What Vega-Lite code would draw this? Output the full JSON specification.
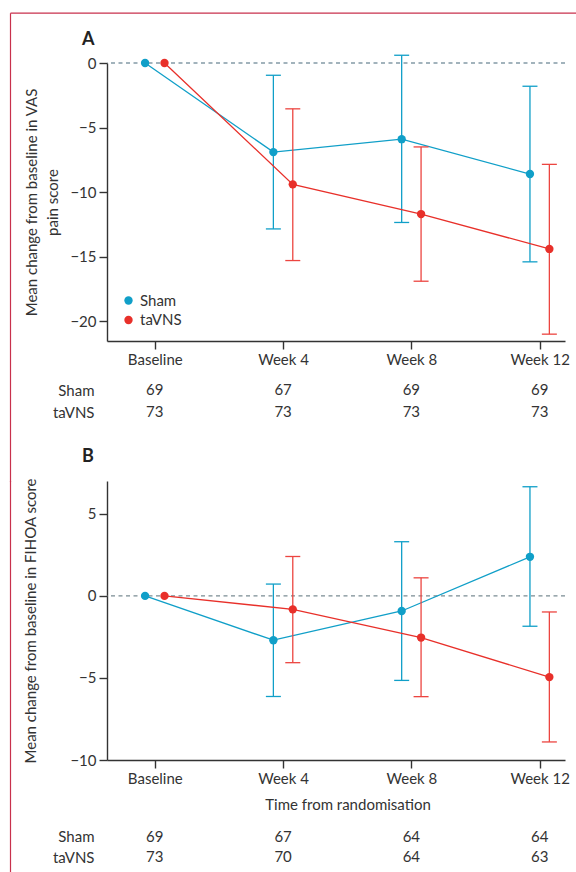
{
  "$schema": "https://vega.github.io/schema/vega-lite/v6.json",
  "padding": {"left": 9, "top": 12, "right": 0, "bottom": 0},
  "background": "white",
  "bounds": "flush",
  "spacing": 10,
  "resolve": {"scale": {"color": "independent"}, "legend": {"color": "independent"}},
  "config": {
    "font": "Lato",
    "view": {"stroke": null},
    "axis": {"labelFont": "Lato", "labelFontSize": 15, "labelColor": "#333", "titleFont": "Lato", "titleFontSize": 15, "titleColor": "#333", "titleFontWeight": "normal", "domainColor": "#333", "domainWidth": 1.4, "tickColor": "#333", "tickWidth": 1.4, "grid": false},
    "legend": {"labelFont": "Lato", "labelFontSize": 15, "labelColor": "#333"},
    "title": {"font": "Lato", "fontSize": 18, "fontWeight": "bold", "color": "#222", "anchor": "start", "frame": "group", "dx": -25, "baseline": "alphabetic"}
  },
  "datasets": {
    "A": [
      {"week": 0, "group": "Sham", "mean": 0, "lo": null, "hi": null},
      {"week": 4, "group": "Sham", "mean": -6.9, "lo": -12.85, "hi": -0.95},
      {"week": 8, "group": "Sham", "mean": -5.9, "lo": -12.35, "hi": 0.6},
      {"week": 12, "group": "Sham", "mean": -8.6, "lo": -15.4, "hi": -1.8},
      {"week": 0, "group": "taVNS", "mean": 0, "lo": null, "hi": null},
      {"week": 4, "group": "taVNS", "mean": -9.4, "lo": -15.3, "hi": -3.55},
      {"week": 8, "group": "taVNS", "mean": -11.7, "lo": -16.9, "hi": -6.5},
      {"week": 12, "group": "taVNS", "mean": -14.4, "lo": -21.0, "hi": -7.85}
    ],
    "B": [
      {"week": 0, "group": "Sham", "mean": 0, "lo": null, "hi": null},
      {"week": 4, "group": "Sham", "mean": -2.7, "lo": -6.13, "hi": 0.72},
      {"week": 8, "group": "Sham", "mean": -0.92, "lo": -5.15, "hi": 3.3},
      {"week": 12, "group": "Sham", "mean": 2.38, "lo": -1.85, "hi": 6.65},
      {"week": 0, "group": "taVNS", "mean": 0, "lo": null, "hi": null},
      {"week": 4, "group": "taVNS", "mean": -0.82, "lo": -4.07, "hi": 2.4},
      {"week": 8, "group": "taVNS", "mean": -2.54, "lo": -6.14, "hi": 1.1},
      {"week": 12, "group": "taVNS", "mean": -4.95, "lo": -8.9, "hi": -0.98}
    ],
    "nA": [
      {"week": 0, "group": "Sham", "n": 69}, {"week": 4, "group": "Sham", "n": 67}, {"week": 8, "group": "Sham", "n": 69}, {"week": 12, "group": "Sham", "n": 69},
      {"week": 0, "group": "taVNS", "n": 73}, {"week": 4, "group": "taVNS", "n": 73}, {"week": 8, "group": "taVNS", "n": 73}, {"week": 12, "group": "taVNS", "n": 73}
    ],
    "nB": [
      {"week": 0, "group": "Sham", "n": 69}, {"week": 4, "group": "Sham", "n": 67}, {"week": 8, "group": "Sham", "n": 64}, {"week": 12, "group": "Sham", "n": 64},
      {"week": 0, "group": "taVNS", "n": 73}, {"week": 4, "group": "taVNS", "n": 70}, {"week": 8, "group": "taVNS", "n": 64}, {"week": 12, "group": "taVNS", "n": 63}
    ]
  },
  "vconcat": [
    {
      "width": 458, "height": 278,
      "title": {"text": "A", "offset": 6},
      "data": {"name": "A"},
      "layer": [
        {"data": {"values": [{}]}, "mark": {"type": "rule", "color": "#47687A", "strokeDash": [4, 3.5], "strokeWidth": 1.2},
         "encoding": {"y": {"datum": 0, "type": "quantitative", "scale": {"domain": [-21.53, 0], "nice": false, "zero": false}, "axis": {"values": [-20, -15, -10, -5, 0], "tickSize": 8, "labelPadding": 3, "title": ["Mean change from baseline in VAS", "pain score"], "titleX": -75.5, "titleY": 139, "titleAngle": -90, "titleAlign": "center", "titleBaseline": "middle", "titleLineHeight": 21}}}},
        {"transform": [{"filter": "datum.group == 'Sham'"}],
         "layer": [
          {"mark": {"type": "line", "color": "#109FC8", "strokeWidth": 1.3, "xOffset": -9.7},
           "encoding": {"x": {"field": "week", "type": "quantitative", "scale": {"domain": [-1.49, 12.79], "nice": false, "zero": false}, "axis": {"values": [0, 4, 8, 12], "labelExpr": "datum.value == 0 ? 'Baseline' : 'Week ' + datum.value", "title": null, "tickSize": 8, "labelPadding": 3, "labelFlush": false, "labelOverlap": false}},
                        "y": {"field": "mean", "type": "quantitative", "scale": {"domain": [-21.53, 0], "nice": false, "zero": false}, "axis": {"values": [-20, -15, -10, -5, 0], "tickSize": 8, "labelPadding": 3, "title": ["Mean change from baseline in VAS", "pain score"], "titleX": -75.5, "titleY": 139, "titleAngle": -90, "titleAlign": "center", "titleBaseline": "middle", "titleLineHeight": 21}}}},
          {"transform": [{"filter": "isValid(datum.lo)"}],
           "mark": {"type": "rule", "color": "#109FC8", "strokeWidth": 1.3, "xOffset": -9.7},
           "encoding": {"x": {"field": "week", "type": "quantitative"}, "y": {"field": "lo", "type": "quantitative"}, "y2": {"field": "hi"}}},
          {"transform": [{"filter": "isValid(datum.lo)"}],
           "mark": {"type": "tick", "orient": "horizontal", "color": "#109FC8", "size": 15, "thickness": 1.3, "opacity": 1, "xOffset": -9.7},
           "encoding": {"x": {"field": "week", "type": "quantitative"}, "y": {"field": "lo", "type": "quantitative"}}},
          {"transform": [{"filter": "isValid(datum.lo)"}],
           "mark": {"type": "tick", "orient": "horizontal", "color": "#109FC8", "size": 15, "thickness": 1.3, "opacity": 1, "xOffset": -9.7},
           "encoding": {"x": {"field": "week", "type": "quantitative"}, "y": {"field": "hi", "type": "quantitative"}}},
          {"mark": {"type": "circle", "size": 70, "opacity": 1, "xOffset": -9.7},
           "encoding": {"x": {"field": "week", "type": "quantitative"}, "y": {"field": "mean", "type": "quantitative"},
                        "color": {"field": "group", "type": "nominal", "scale": {"domain": ["Sham", "taVNS"], "range": ["#109FC8", "#E8302A"]},
                                  "legend": {"orient": "none", "legendX": 14, "legendY": 230, "title": null, "symbolSize": 70, "symbolType": "circle", "rowPadding": 3.5, "labelOffset": 4, "padding": 0, "symbolStrokeWidth": 0, "symbolOpacity": 1}}}}
         ]},
        {"transform": [{"filter": "datum.group == 'taVNS'"}],
         "layer": [
          {"mark": {"type": "line", "color": "#E8302A", "strokeWidth": 1.3, "xOffset": 9.7},
           "encoding": {"x": {"field": "week", "type": "quantitative"}, "y": {"field": "mean", "type": "quantitative"}}},
          {"transform": [{"filter": "isValid(datum.lo)"}],
           "mark": {"type": "rule", "color": "#EC4540", "strokeWidth": 1.3, "xOffset": 9.7},
           "encoding": {"x": {"field": "week", "type": "quantitative"}, "y": {"field": "lo", "type": "quantitative"}, "y2": {"field": "hi"}}},
          {"transform": [{"filter": "isValid(datum.lo)"}],
           "mark": {"type": "tick", "orient": "horizontal", "color": "#EC4540", "size": 15, "thickness": 1.3, "opacity": 1, "xOffset": 9.7},
           "encoding": {"x": {"field": "week", "type": "quantitative"}, "y": {"field": "lo", "type": "quantitative"}}},
          {"transform": [{"filter": "isValid(datum.lo)"}],
           "mark": {"type": "tick", "orient": "horizontal", "color": "#EC4540", "size": 15, "thickness": 1.3, "opacity": 1, "xOffset": 9.7},
           "encoding": {"x": {"field": "week", "type": "quantitative"}, "y": {"field": "hi", "type": "quantitative"}}},
          {"mark": {"type": "circle", "size": 70, "opacity": 1, "xOffset": 9.7},
           "encoding": {"x": {"field": "week", "type": "quantitative"}, "y": {"field": "mean", "type": "quantitative"},
                        "color": {"field": "group", "type": "nominal", "scale": {"domain": ["Sham", "taVNS"], "range": ["#109FC8", "#E8302A"]}}}}
         ]}
      ]
    },
    {
      "width": 458, "height": 120,
      "layer": [
        {"data": {"name": "nA"}, "mark": {"type": "text", "fontSize": 15, "color": "#333", "font": "Lato"},
         "encoding": {"x": {"field": "week", "type": "quantitative", "scale": {"domain": [-1.49, 12.79], "nice": false, "zero": false}, "axis": null},
                      "y": {"field": "group", "type": "nominal", "sort": ["Sham", "taVNS"], "scale": {"type": "point", "range": [39, 61.4], "padding": 0}, "axis": {"title": null, "domain": false, "ticks": false, "labelPadding": 13}},
                      "text": {"field": "n", "type": "quantitative"}}},
        {"data": {"values": [{}]}, "mark": {"type": "rule", "color": "#C8314C", "strokeWidth": 1.2},
         "encoding": {"x": {"value": -96.5}, "y": {"value": -337.8}, "y2": {"value": 131}}},
        {"data": {"values": [{}]}, "mark": {"type": "rule", "color": "#C8314C", "strokeWidth": 1.2},
         "encoding": {"x": {"value": -96.5}, "x2": {"value": 470}, "y": {"value": -337.8}}}
      ]
    },
    {
      "width": 458, "height": 279,
      "title": {"text": "B", "offset": 12},
      "data": {"name": "B"},
      "layer": [
        {"data": {"values": [{}]}, "mark": {"type": "rule", "color": "#7A8C93", "strokeDash": [4, 3.5], "strokeWidth": 1.3},
         "encoding": {"y": {"datum": 0, "type": "quantitative", "scale": {"domain": [-10, 7], "nice": false, "zero": false}, "axis": {"values": [-10, -5, 0, 5], "tickSize": 8, "labelPadding": 3, "title": "Mean change from baseline in FIHOA score", "titleX": -77, "titleY": 139.5, "titleAngle": -90, "titleAlign": "center", "titleBaseline": "middle"}}}},
        {"transform": [{"filter": "datum.group == 'Sham'"}],
         "layer": [
          {"mark": {"type": "line", "color": "#109FC8", "strokeWidth": 1.3, "xOffset": -9.7},
           "encoding": {"x": {"field": "week", "type": "quantitative", "scale": {"domain": [-1.49, 12.79], "nice": false, "zero": false}, "axis": {"values": [0, 4, 8, 12], "labelExpr": "datum.value == 0 ? 'Baseline' : 'Week ' + datum.value", "title": "Time from randomisation", "titleX": 240.5, "titleY": 44, "titleAlign": "center", "titleBaseline": "middle", "tickSize": 8, "labelPadding": 3, "labelFlush": false, "labelOverlap": false}},
                        "y": {"field": "mean", "type": "quantitative", "scale": {"domain": [-10, 7], "nice": false, "zero": false}, "axis": {"values": [-10, -5, 0, 5], "tickSize": 8, "labelPadding": 3, "title": "Mean change from baseline in FIHOA score", "titleX": -77, "titleY": 139.5, "titleAngle": -90, "titleAlign": "center", "titleBaseline": "middle"}}}},
          {"transform": [{"filter": "isValid(datum.lo)"}],
           "mark": {"type": "rule", "color": "#109FC8", "strokeWidth": 1.3, "xOffset": -9.7},
           "encoding": {"x": {"field": "week", "type": "quantitative"}, "y": {"field": "lo", "type": "quantitative"}, "y2": {"field": "hi"}}},
          {"transform": [{"filter": "isValid(datum.lo)"}],
           "mark": {"type": "tick", "orient": "horizontal", "color": "#109FC8", "size": 15, "thickness": 1.3, "opacity": 1, "xOffset": -9.7},
           "encoding": {"x": {"field": "week", "type": "quantitative"}, "y": {"field": "lo", "type": "quantitative"}}},
          {"transform": [{"filter": "isValid(datum.lo)"}],
           "mark": {"type": "tick", "orient": "horizontal", "color": "#109FC8", "size": 15, "thickness": 1.3, "opacity": 1, "xOffset": -9.7},
           "encoding": {"x": {"field": "week", "type": "quantitative"}, "y": {"field": "hi", "type": "quantitative"}}},
          {"mark": {"type": "circle", "size": 70, "opacity": 1, "color": "#109FC8", "xOffset": -9.7},
           "encoding": {"x": {"field": "week", "type": "quantitative"}, "y": {"field": "mean", "type": "quantitative"}}}
         ]},
        {"transform": [{"filter": "datum.group == 'taVNS'"}],
         "layer": [
          {"mark": {"type": "line", "color": "#E8302A", "strokeWidth": 1.3, "xOffset": 9.7},
           "encoding": {"x": {"field": "week", "type": "quantitative"}, "y": {"field": "mean", "type": "quantitative"}}},
          {"transform": [{"filter": "isValid(datum.lo)"}],
           "mark": {"type": "rule", "color": "#EC4540", "strokeWidth": 1.3, "xOffset": 9.7},
           "encoding": {"x": {"field": "week", "type": "quantitative"}, "y": {"field": "lo", "type": "quantitative"}, "y2": {"field": "hi"}}},
          {"transform": [{"filter": "isValid(datum.lo)"}],
           "mark": {"type": "tick", "orient": "horizontal", "color": "#EC4540", "size": 15, "thickness": 1.3, "opacity": 1, "xOffset": 9.7},
           "encoding": {"x": {"field": "week", "type": "quantitative"}, "y": {"field": "lo", "type": "quantitative"}}},
          {"transform": [{"filter": "isValid(datum.lo)"}],
           "mark": {"type": "tick", "orient": "horizontal", "color": "#EC4540", "size": 15, "thickness": 1.3, "opacity": 1, "xOffset": 9.7},
           "encoding": {"x": {"field": "week", "type": "quantitative"}, "y": {"field": "hi", "type": "quantitative"}}},
          {"mark": {"type": "circle", "size": 70, "opacity": 1, "color": "#E8302A", "xOffset": 9.7},
           "encoding": {"x": {"field": "week", "type": "quantitative"}, "y": {"field": "mean", "type": "quantitative"}}}
         ]}
      ]
    },
    {
      "width": 458, "height": 100,
      "layer": [
        {"data": {"name": "nB"}, "mark": {"type": "text", "fontSize": 15, "color": "#333", "font": "Lato"},
         "encoding": {"x": {"field": "week", "type": "quantitative", "scale": {"domain": [-1.49, 12.79], "nice": false, "zero": false}, "axis": null},
                      "y": {"field": "group", "type": "nominal", "sort": ["Sham", "taVNS"], "scale": {"type": "point", "range": [66.7, 87.4], "padding": 0}, "axis": {"title": null, "domain": false, "ticks": false, "labelPadding": 13}},
                      "text": {"field": "n", "type": "quantitative"}}},
        {"data": {"values": [{}]}, "mark": {"type": "rule", "color": "#C8314C", "strokeWidth": 1.2},
         "encoding": {"x": {"value": -96.5}, "y": {"value": -289}, "y2": {"value": 103}}}
      ]
    }
  ]
}
